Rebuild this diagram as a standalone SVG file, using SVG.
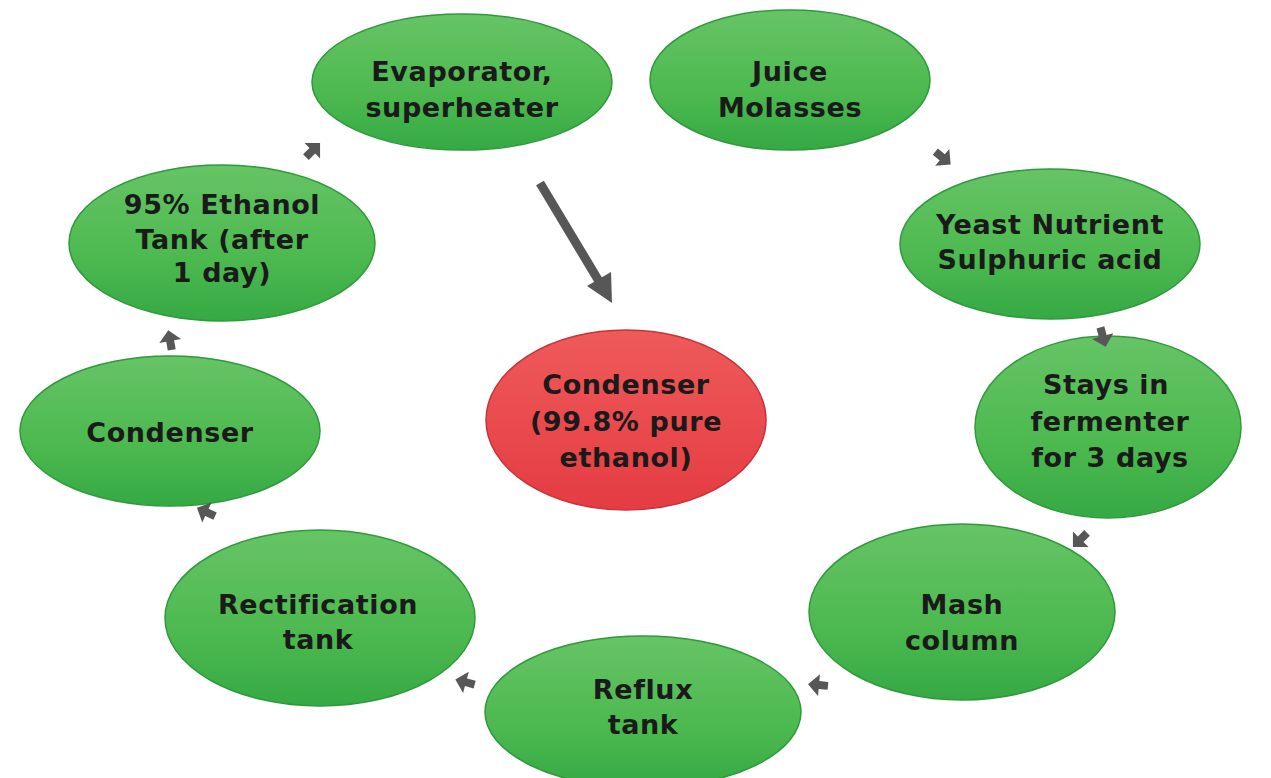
<svg xmlns="http://www.w3.org/2000/svg" width="1271" height="778" viewBox="0 0 1271 778">
<style>
.g{fill:url(#gg);stroke:#2e9a3c;stroke-width:1.5}
.r{fill:url(#rg);stroke:#c8323a;stroke-width:1.5}
text{font-family:"DejaVu Sans","Liberation Sans",sans-serif;font-weight:bold;font-size:27px;letter-spacing:0.6px;fill:#1a1a1a;text-anchor:middle}
.a{fill:#575757}
</style>
<defs>
<linearGradient id="gg" x1="0" y1="0" x2="0" y2="1">
<stop offset="0" stop-color="#66c465"/>
<stop offset="0.6" stop-color="#4cb94f"/>
<stop offset="1" stop-color="#35a944"/>
</linearGradient>
<linearGradient id="rg" x1="0" y1="0" x2="0" y2="1">
<stop offset="0" stop-color="#ef5a5a"/>
<stop offset="1" stop-color="#e43c42"/>
</linearGradient>
<polygon id="ar" points="-10,-4 -1,-4 -1,-11 10,0 -1,11 -1,4 -10,4"/>
</defs>
<rect width="1271" height="778" fill="#ffffff"/>
<g id="n-evaporator"><ellipse class="g" cx="462" cy="82" rx="150" ry="68"/><text x="462" y="81">Evaporator,</text><text x="462" y="117">superheater</text></g>
<g id="n-juice"><ellipse class="g" cx="790" cy="80" rx="140" ry="70"/><text x="790" y="81">Juice</text><text x="790" y="117">Molasses</text></g>
<g id="n-yeast"><ellipse class="g" cx="1050" cy="244" rx="150" ry="75"/><text x="1050" y="234">Yeast Nutrient</text><text x="1050" y="269">Sulphuric acid</text></g>
<g id="n-stays"><ellipse class="g" cx="1108" cy="427" rx="133" ry="91"/><text x="1106" y="394">Stays in</text><text x="1110" y="431">fermenter</text><text x="1110" y="467">for 3 days</text></g>
<g id="n-mash"><ellipse class="g" cx="962" cy="612" rx="153" ry="88"/><text x="962" y="614">Mash</text><text x="962" y="650">column</text></g>
<g id="n-reflux"><ellipse class="g" cx="643" cy="712" rx="158" ry="76"/><text x="643" y="699">Reflux</text><text x="643" y="734">tank</text></g>
<g id="n-rectification"><ellipse class="g" cx="320" cy="618" rx="155" ry="88"/><text x="318" y="614">Rectification</text><text x="318" y="649">tank</text></g>
<g id="n-condenser-left"><ellipse class="g" cx="170" cy="431" rx="150" ry="75"/><text x="170" y="442">Condenser</text></g>
<g id="n-ethanol"><ellipse class="g" cx="222" cy="243" rx="153" ry="78"/><text x="222" y="214">95% Ethanol</text><text x="222" y="249">Tank (after</text><text x="222" y="282">1 day)</text></g>
<g id="n-condenser-center"><ellipse class="r" cx="626" cy="420" rx="140" ry="90"/><text x="626" y="394">Condenser</text><text x="626" y="431">(99.8% pure</text><text x="626" y="467">ethanol)</text></g>
<g id="connectors">
<use href="#ar" class="a" transform="translate(313,150) rotate(-45)"/>
<use href="#ar" class="a" transform="translate(943,158) rotate(40)"/>
<use href="#ar" class="a" transform="translate(1103,337) rotate(75)"/>
<use href="#ar" class="a" transform="translate(1080,540) rotate(135)"/>
<use href="#ar" class="a" transform="translate(818,685) rotate(185)"/>
<use href="#ar" class="a" transform="translate(465,682) rotate(195)"/>
<use href="#ar" class="a" transform="translate(206,512) rotate(205)"/>
<use href="#ar" class="a" transform="translate(170,340) rotate(-100)"/>
<line x1="540" y1="183" x2="600" y2="283" stroke="#575757" stroke-width="9"/>
<polygon class="a" points="612,303 587,286 611,272"/>
</g>
</svg>
